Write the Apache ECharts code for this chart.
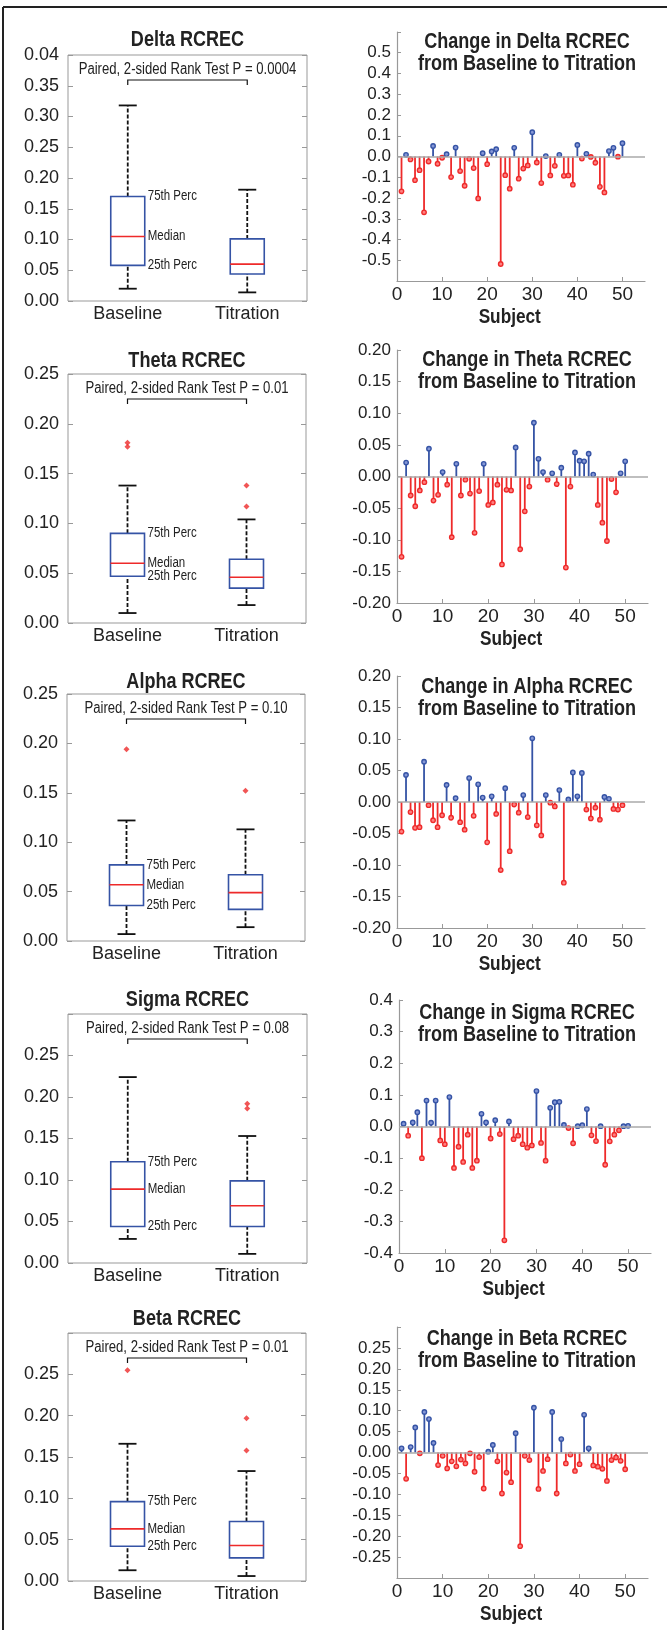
<!DOCTYPE html>
<html>
<head>
<meta charset="utf-8">
<title>RCREC Baseline vs Titration</title>
<script src="https://cdn.jsdelivr.net/npm/echarts@6/dist/echarts.min.js"></script>
<style>
  html, body { margin: 0; padding: 0; background: #fff; }
  #chart { width: 667px; height: 1630px; }
</style>
</head>
<body>
<div id="chart"></div>
<script>
// ---------- values ----------
var groups = ['Baseline', 'Titration'];
var boxLabels = ['75th Perc', 'Median', '25th Perc'];

// box stats: [low whisker, 25th, median, 75th, high whisker]
var deltaBase = [0.020, 0.058, 0.105, 0.170, 0.318];
var deltaTitr = [0.014, 0.044, 0.060, 0.101, 0.181];
var thetaBase = [0.010, 0.047, 0.060, 0.090, 0.138];
var thetaTitr = [0.018, 0.035, 0.046, 0.064, 0.104];
var alphaBase = [0.007, 0.036, 0.057, 0.077, 0.122];
var alphaTitr = [0.014, 0.032, 0.049, 0.067, 0.113];
var sigmaBase = [0.029, 0.044, 0.089, 0.122, 0.224];
var sigmaTitr = [0.011, 0.044, 0.069, 0.099, 0.153];
var betaBase  = [0.013, 0.042, 0.063, 0.096, 0.166];
var betaTitr  = [0.006, 0.028, 0.043, 0.072, 0.133];

// outliers
var deltaOutBase = [], deltaOutTitr = [];
var thetaOutBase = [0.181, 0.177], thetaOutTitr = [0.138, 0.117];
var alphaOutBase = [0.194], alphaOutTitr = [0.152];
var sigmaOutBase = [], sigmaOutTitr = [0.192, 0.186];
var betaOutBase = [0.255], betaOutTitr = [0.197, 0.158];

var pDelta = '0.0004', pTheta = '0.01', pAlpha = '0.10', pSigma = '0.08', pBeta = '0.01';

// change per subject (subjects 1..50)
var deltaChange = [-0.168, 0.008, -0.014, -0.114, -0.066, -0.269, -0.024, 0.051, -0.035, -0.006,
  0.011, -0.099, 0.043, -0.070, -0.141, -0.011, -0.056, -0.202, 0.016, -0.037,
  0.024, 0.035, -0.518, -0.090, -0.155, 0.042, -0.107, -0.058, -0.043, 0.117,
  -0.029, -0.128, 0.002, -0.091, -0.045, 0.008, -0.093, -0.091, -0.136, 0.056,
  -0.010, 0.013, -0.002, -0.030, -0.146, -0.173, 0.026, 0.042, -0.001, 0.064];
var thetaChange = [-0.127, 0.022, -0.030, -0.047, -0.022, -0.009, 0.044, -0.038, -0.029, 0.007,
  -0.013, -0.096, 0.020, -0.030, -0.005, -0.027, -0.089, -0.023, 0.020, -0.045,
  -0.041, -0.013, -0.139, -0.021, -0.022, 0.046, -0.115, -0.055, -0.016, 0.085,
  0.028, 0.007, -0.005, 0.005, -0.012, 0.014, -0.144, -0.016, 0.038, 0.025,
  0.024, 0.036, 0.003, -0.045, -0.073, -0.102, -0.004, -0.025, 0.005, 0.024];
var alphaChange = [-0.047, 0.043, -0.016, -0.041, -0.040, 0.064, -0.005, -0.029, -0.040, -0.021,
  0.027, -0.025, 0.006, -0.032, -0.044, 0.038, -0.022, 0.028, 0.007, -0.064,
  0.009, -0.019, -0.108, 0.022, -0.078, -0.004, -0.017, 0.011, -0.024, 0.101,
  -0.037, -0.053, 0.011, -0.001, -0.007, 0.019, -0.128, 0.004, 0.047, 0.009,
  0.046, -0.012, -0.026, -0.009, -0.028, 0.008, 0.005, -0.011, -0.012, -0.005];
var sigmaChange = [0.009, -0.029, 0.013, 0.045, -0.100, 0.082, 0.012, 0.082, -0.044, -0.056,
  0.093, -0.131, -0.064, -0.112, -0.026, -0.131, -0.108, 0.040, 0.013, -0.038,
  0.020, -0.024, -0.360, 0.016, -0.040, -0.029, -0.056, -0.067, -0.060, 0.112,
  -0.052, -0.108, 0.059, 0.077, 0.078, 0.005, -0.005, -0.053, 0.001, 0.004,
  0.055, -0.028, -0.046, 0.001, -0.121, -0.047, -0.026, -0.012, 0.001, 0.002];
var betaChange = [0.010, -0.063, 0.013, 0.060, -0.002, 0.097, 0.080, 0.023, -0.030, -0.008,
  -0.038, -0.021, -0.033, -0.017, -0.026, -0.002, -0.046, -0.011, -0.086, 0.002,
  0.018, -0.021, -0.098, -0.048, -0.071, 0.046, -0.224, -0.008, -0.018, 0.107,
  -0.087, -0.044, -0.016, 0.097, -0.098, 0.032, -0.026, -0.005, -0.044, -0.028,
  0.090, 0.010, -0.031, -0.034, -0.039, -0.068, -0.018, -0.012, -0.020, -0.040];

// tick labels (bottom to top, '' = no label)
var deltaBoxTicks = ['0.00', '0.05', '0.10', '0.15', '0.20', '0.25', '0.30', '0.35', '0.04'];
var thetaBoxTicks = ['0.00', '0.05', '0.10', '0.15', '0.20', '0.25'];
var alphaBoxTicks = ['0.00', '0.05', '0.10', '0.15', '0.20', '0.25'];
var sigmaBoxTicks = ['0.00', '0.05', '0.10', '0.15', '0.20', '0.25', ''];
var betaBoxTicks  = ['0.00', '0.05', '0.10', '0.15', '0.20', '0.25', ''];
var deltaStemTicks = ['', '-0.5', '-0.4', '-0.3', '-0.2', '-0.1', '0.0', '0.1', '0.2', '0.3', '0.4', '0.5', ''];
var thetaStemTicks = ['-0.20', '-0.15', '-0.10', '-0.05', '0.00', '0.05', '0.10', '0.15', '0.20'];
var alphaStemTicks = ['-0.20', '-0.15', '-0.10', '-0.05', '0.00', '0.05', '0.10', '0.15', '0.20'];
var sigmaStemTicks = ['-0.4', '-0.3', '-0.2', '-0.1', '0.0', '0.1', '0.2', '0.3', '0.4'];
var betaStemTicks  = ['', '-0.25', '-0.20', '-0.15', '-0.10', '-0.05', '0.00', '0.05', '0.10', '0.15', '0.20', '0.25', ''];
var subjectTicks = ['0', '10', '20', '30', '40', '50'];

// ---------- layout ----------
var FONT = "'Liberation Sans', Arial, sans-serif";
var NARROW = 0.82; // the figure uses a condensed face; squeeze free text horizontally
var RED = '#ee2a2a', BLUE = '#3553a5', AXIS = '#999', TXT = '#222';

var panels = [
  { name: 'Delta', base: deltaBase, titr: deltaTitr, outB: deltaOutBase, outT: deltaOutTitr, p: pDelta,
    change: deltaChange, boxMax: 0.40, boxTicks: deltaBoxTicks,
    stemMin: -0.6, stemMax: 0.6, stemStep: 0.1, stemTicks: deltaStemTicks,
    box: { left: 68, top: 55, width: 239, height: 246 }, titleY: 40,
    stem: { left: 397, top: 32, width: 248, height: 249 }, stemTitleY: 42 },
  { name: 'Theta', base: thetaBase, titr: thetaTitr, outB: thetaOutBase, outT: thetaOutTitr, p: pTheta,
    change: thetaChange, boxMax: 0.25, boxTicks: thetaBoxTicks,
    stemMin: -0.2, stemMax: 0.2, stemStep: 0.05, stemTicks: thetaStemTicks,
    box: { left: 68, top: 374, width: 238, height: 249 }, titleY: 361,
    stem: { left: 397, top: 350, width: 251, height: 253 }, stemTitleY: 360 },
  { name: 'Alpha', base: alphaBase, titr: alphaTitr, outB: alphaOutBase, outT: alphaOutTitr, p: pAlpha,
    change: alphaChange, boxMax: 0.25, boxTicks: alphaBoxTicks,
    stemMin: -0.2, stemMax: 0.2, stemStep: 0.05, stemTicks: alphaStemTicks,
    box: { left: 67, top: 694, width: 238, height: 247 }, titleY: 682,
    stem: { left: 397, top: 676, width: 248, height: 252 }, stemTitleY: 687 },
  { name: 'Sigma', base: sigmaBase, titr: sigmaTitr, outB: sigmaOutBase, outT: sigmaOutTitr, p: pSigma,
    change: sigmaChange, boxMax: 0.30, boxTicks: sigmaBoxTicks,
    stemMin: -0.4, stemMax: 0.4, stemStep: 0.1, stemTicks: sigmaStemTicks,
    box: { left: 68, top: 1014, width: 239, height: 249 }, titleY: 1000,
    stem: { left: 399, top: 1000, width: 252, height: 253 }, stemTitleY: 1013 },
  { name: 'Beta', base: betaBase, titr: betaTitr, outB: betaOutBase, outT: betaOutTitr, p: pBeta,
    change: betaChange, boxMax: 0.30, boxTicks: betaBoxTicks,
    stemMin: -0.3, stemMax: 0.3, stemStep: 0.05, stemTicks: betaStemTicks,
    box: { left: 68, top: 1333, width: 238, height: 248 }, titleY: 1319,
    stem: { left: 397, top: 1327, width: 251, height: 251 }, stemTitleY: 1339 }
];

function tickFormatter(labels, min, step) {
  return function (v) {
    var k = Math.round((v - min) / step);
    if (Math.abs(v - (min + k * step)) > step * 0.01) return '';
    return labels[k] !== undefined ? labels[k] : '';
  };
}

function narrowText(x, y, text, font, align) {
  return { type: 'text', x: x, y: y, scaleX: NARROW,
    style: { text: text, font: font, fill: TXT, align: align || 'center', verticalAlign: 'middle' } };
}

function renderBox(params, api) {
  var c = api.value(0);
  function pt(k) { return api.coord([c, api.value(k)]); }
  var lo = pt(1), q1 = pt(2), md = pt(3), q3 = pt(4), hi = pt(5);
  var x = lo[0], hw = 17, cw = 9;
  var dash = { stroke: '#111', lineWidth: 1.8, lineDash: [4, 2] };
  var kids = [
    { type: 'line', shape: { x1: x, y1: lo[1], x2: x, y2: q1[1] }, style: dash },
    { type: 'line', shape: { x1: x, y1: q3[1], x2: x, y2: hi[1] }, style: dash },
    { type: 'line', shape: { x1: x - cw, y1: lo[1], x2: x + cw, y2: lo[1] }, style: { stroke: '#111', lineWidth: 1.8 } },
    { type: 'line', shape: { x1: x - cw, y1: hi[1], x2: x + cw, y2: hi[1] }, style: { stroke: '#111', lineWidth: 1.8 } },
    { type: 'rect', shape: { x: x - hw, y: q3[1], width: 2 * hw, height: q1[1] - q3[1] },
      style: { fill: '#fff', stroke: BLUE, lineWidth: 1.6 } },
    { type: 'line', shape: { x1: x - hw, y1: md[1], x2: x + hw, y2: md[1] }, style: { stroke: RED, lineWidth: 1.6 } }
  ];
  if (c === 0) {
    [q3, md, q1].forEach(function (p, k) {
      kids.push(narrowText(x + hw + 3, p[1], boxLabels[k], '14px ' + FONT, 'left'));
    });
  }
  return { type: 'group', children: kids };
}

function bracketRenderer(pText) {
  return function (params, api) {
    var a = api.coord([0, api.value(1)]), b = api.coord([1, api.value(1)]);
    var yb = a[1] + 25;
    return { type: 'group', children: [
      { type: 'polyline', shape: { points: [[a[0], yb + 5], [a[0], yb], [b[0], yb], [b[0], yb + 5]] },
        style: { stroke: '#111', lineWidth: 1.2, fill: 'none' } },
      narrowText((a[0] + b[0]) / 2, a[1] + 15, 'Paired, 2-sided Rank Test P = ' + pText, '16px ' + FONT)
    ] };
  };
}

function renderStem(params, api) {
  var s = api.value(0), v = api.value(1);
  var base = api.coord([s, 0]), tip = api.coord([s, v]);
  var col = v < 0 ? RED : BLUE;
  return { type: 'group', children: [
    { type: 'line', shape: { x1: base[0], y1: base[1], x2: tip[0], y2: tip[1] }, style: { stroke: col, lineWidth: 1.8 } },
    { type: 'circle', shape: { cx: tip[0], cy: tip[1], r: 2.2 },
      style: { fill: v < 0 ? '#ff8080' : '#8597d6', stroke: col, lineWidth: 1.4 } }
  ] };
}

var grid = [], xAxis = [], yAxis = [], series = [], graphic = [];

graphic.push({ type: 'line', shape: { x1: 3, y1: 7, x2: 667, y2: 7 }, style: { stroke: '#222', lineWidth: 2 } });
graphic.push({ type: 'line', shape: { x1: 3, y1: 7, x2: 3, y2: 1630 }, style: { stroke: '#222', lineWidth: 2 } });

panels.forEach(function (p) {
  var g = grid.length;
  grid.push(Object.assign({ show: true, borderColor: AXIS, borderWidth: 1, backgroundColor: 'transparent' }, p.box));
  grid.push(Object.assign({ show: false }, p.stem));

  var xi = xAxis.length;
  xAxis.push({ type: 'category', gridIndex: g, data: groups, boundaryGap: true,
    axisLine: { show: false }, axisTick: { show: false }, splitLine: { show: false },
    axisLabel: { color: TXT, fontFamily: FONT, fontSize: 18, margin: 4 } });
  xAxis.push({ type: 'value', gridIndex: g + 1, min: 0, max: 55, interval: 10,
    axisLine: { show: true, onZero: false, lineStyle: { color: AXIS, width: 1.2 } },
    axisTick: { show: true, inside: true, length: 4, lineStyle: { color: AXIS } },
    splitLine: { show: false },
    axisLabel: { color: TXT, fontFamily: FONT, fontSize: 19, margin: 4, showMaxLabel: false,
      formatter: tickFormatter(subjectTicks, 0, 10) } });

  var yi = yAxis.length;
  var boxY = { type: 'value', gridIndex: g, min: 0, max: p.boxMax, interval: 0.05,
    axisLine: { show: false }, splitLine: { show: false },
    axisTick: { show: true, inside: true, length: 5, lineStyle: { color: AXIS } } };
  yAxis.push(Object.assign({}, boxY, {
    axisLabel: { color: TXT, fontFamily: FONT, fontSize: 18, margin: 9,
      formatter: tickFormatter(p.boxTicks, 0, 0.05) } }));
  yAxis.push(Object.assign({}, boxY, { position: 'right', axisLabel: { show: false } }));
  yAxis.push({ type: 'value', gridIndex: g + 1, min: p.stemMin, max: p.stemMax, interval: p.stemStep,
    axisLine: { show: true, onZero: false, lineStyle: { color: AXIS, width: 1.2 } },
    axisTick: { show: true, inside: true, length: 4, lineStyle: { color: AXIS } },
    splitLine: { show: false },
    axisLabel: { color: TXT, fontFamily: FONT, fontSize: 17, margin: 6,
      formatter: tickFormatter(p.stemTicks, p.stemMin, p.stemStep) } });

  // boxes
  series.push({ type: 'custom', xAxisIndex: xi, yAxisIndex: yi, renderItem: renderBox,
    data: [[0].concat(p.base), [1].concat(p.titr)], z: 3 });
  // outliers
  series.push({ type: 'scatter', xAxisIndex: xi, yAxisIndex: yi, symbol: 'diamond', symbolSize: 6,
    itemStyle: { color: RED },
    data: p.outB.map(function (v) { return [0, v]; }).concat(p.outT.map(function (v) { return [1, v]; })), z: 4 });
  // bracket + test annotation
  series.push({ type: 'custom', xAxisIndex: xi, yAxisIndex: yi, renderItem: bracketRenderer(p.p),
    data: [[0, p.boxMax]], z: 4 });
  // stems
  series.push({ type: 'custom', xAxisIndex: xi + 1, yAxisIndex: yi + 2, renderItem: renderStem,
    data: p.change.map(function (v, k) { return [k + 1, v]; }), z: 3,
    markLine: { silent: true, symbol: 'none', label: { show: false }, animation: false,
      lineStyle: { color: '#aaa', width: 1.5, type: 'solid' }, data: [{ yAxis: 0 }] } });

  // titles
  graphic.push(narrowText(p.box.left + p.box.width / 2, p.titleY, p.name + ' RCREC', 'bold 22px ' + FONT));
  graphic.push(narrowText(527, p.stemTitleY, 'Change in ' + p.name + ' RCREC', 'bold 22px ' + FONT));
  graphic.push(narrowText(527, p.stemTitleY + 22, 'from Baseline to Titration', 'bold 22px ' + FONT));
  graphic.push(narrowText(p.stem.left + p.stem.width * 25 / 55, p.stem.top + p.stem.height + 36,
    'Subject', 'bold 21px ' + FONT));
});

var chart = echarts.init(document.getElementById('chart'), null, { renderer: 'canvas' });
chart.setOption({
  animation: false,
  backgroundColor: '#fff',
  grid: grid,
  xAxis: xAxis,
  yAxis: yAxis,
  series: series,
  graphic: graphic
});
</script>
</body>
</html>
